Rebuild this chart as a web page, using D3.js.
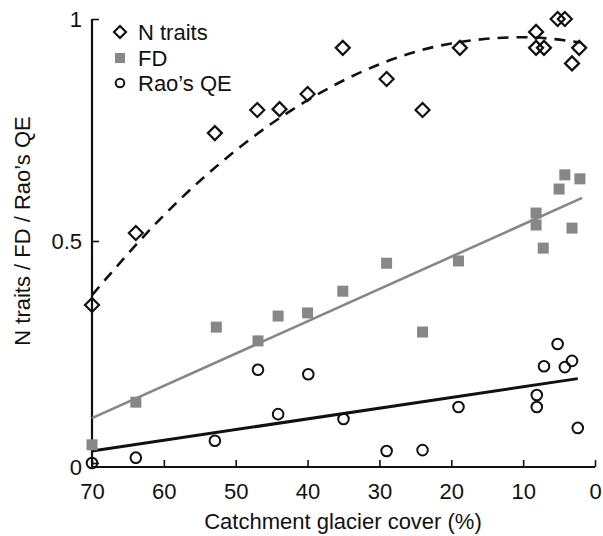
<!DOCTYPE html>
<html>
<head>
<meta charset="utf-8">
<script src="https://cdn.jsdelivr.net/npm/d3@7"></script>
<style>
  html, body { margin: 0; padding: 0; background: #fff; }
  svg { display: block; }
  text { font-family: "Liberation Sans", Arial, sans-serif; fill: #111; }
</style>
</head>
<body>
<svg id="chart" width="603" height="536"></svg>
<script>
// ---- data ----
const xTicks = [70, 60, 50, 40, 30, 20, 10, 0];
const yTicks = [0, 0.5, 1];
const yTickLabels = ["0", "0.5", "1"];

const nTraitsX = [70, 63.9, 52.9, 47.0, 43.9, 40.0, 35.1, 29.0, 24.0, 18.8, 8.2, 8.2, 7.1, 5.2, 4.2, 2.2, 3.2];
const nTraitsY = [0.356, 0.518, 0.743, 0.795, 0.797, 0.831, 0.935, 0.865, 0.795, 0.935, 0.971, 0.935, 0.935, 1.0, 1.0, 0.935, 0.90];

const fdX = [70, 63.9, 52.7, 46.9, 44.1, 40.0, 35.1, 29.0, 24.0, 19.0, 8.2, 8.2, 7.2, 5.0, 4.2, 3.2, 2.1];
const fdY = [0.041, 0.137, 0.306, 0.275, 0.331, 0.338, 0.387, 0.450, 0.295, 0.455, 0.563, 0.536, 0.484, 0.617, 0.649, 0.529, 0.640];

const raoX = [70, 63.9, 52.9, 46.9, 44.1, 39.9, 35.0, 29.0, 24.0, 19.0, 8.1, 8.1, 7.1, 5.2, 4.2, 3.2, 2.4];
const raoY = [0.0, 0.012, 0.05, 0.21, 0.11, 0.20, 0.099, 0.027, 0.029, 0.126, 0.153, 0.126, 0.218, 0.268, 0.216, 0.23, 0.079];

// fitted trend lines
const nTrendX = [70, 60, 50, 40, 30, 20, 10, 2];
const nTrendY = [0.378, 0.558, 0.704, 0.817, 0.898, 0.945, 0.959, 0.947];
const fdTrendX = [70, 1.8];
const fdTrendY = [0.101, 0.597];
const raoTrendX = [70, 2.4];
const raoTrendY = [0.027, 0.19];

const legendLabels = ["N traits", "FD", "Rao\u2019s QE"];

// ---- chart ----
const svg = d3.select("#chart");
const x = d3.scaleLinear().domain([70, 0]).range([92, 595]);
const y = d3.scaleLinear().domain([0, 1]).range([463, 19]);
const gray = "#878787";

// axes
const xAxis = svg.append("g").attr("transform", "translate(0,467)")
  .call(d3.axisBottom(x).tickValues(xTicks).tickSize(-7).tickPadding(16).tickFormat(d3.format("d")));
xAxis.select(".domain").attr("d", `M${x(70)},0H${x(0)}`).attr("stroke", "#111").attr("stroke-width", 2.2);
xAxis.selectAll(".tick line").attr("stroke", "#111").attr("stroke-width", 1.6);
xAxis.selectAll(".tick text").attr("font-size", 22).attr("font-family", "Liberation Sans, Arial, sans-serif").attr("fill", "#111");

const yAxis = svg.append("g").attr("transform", "translate(92,0)")
  .call(d3.axisLeft(y).tickValues(yTicks).tickSize(-7).tickPadding(10)
    .tickFormat((d, i) => yTickLabels[i]));
yAxis.select(".domain").attr("d", `M0,${y(1)}V467`).attr("stroke", "#111").attr("stroke-width", 2.2);
yAxis.selectAll(".tick line").attr("stroke", "#111").attr("stroke-width", 1.6);
yAxis.selectAll(".tick text").attr("font-size", 22).attr("font-family", "Liberation Sans, Arial, sans-serif").attr("fill", "#111");
yAxis.selectAll(".tick").filter(d => d === 0).select("text").attr("dy", "0.5em");

// axis titles
svg.append("text").attr("x", 343).attr("y", 529).attr("text-anchor", "middle")
  .attr("font-size", 22).text("Catchment glacier cover (%)");
svg.append("text").attr("transform", "translate(30,231) rotate(-90)").attr("text-anchor", "middle")
  .attr("font-size", 22).text("N traits / FD / Rao\u2019s QE");

// trend lines
const line = d3.line().x(d => x(d[0])).y(d => y(d[1]));
svg.append("path").datum(d3.zip(fdTrendX, fdTrendY)).attr("d", line)
  .attr("fill", "none").attr("stroke", gray).attr("stroke-width", 2.6);
svg.append("path").datum(d3.zip(raoTrendX, raoTrendY)).attr("d", line)
  .attr("fill", "none").attr("stroke", "#111").attr("stroke-width", 3);
svg.append("path").datum(d3.zip(nTrendX, nTrendY)).attr("d", line.curve(d3.curveMonotoneX))
  .attr("fill", "none").attr("stroke", "#111").attr("stroke-width", 2.6).attr("stroke-dasharray", "11,8");

// points
const diamond = "M0,-7L7,0L0,7L-7,0Z";
svg.append("g").selectAll("rect").data(d3.zip(fdX, fdY)).join("rect")
  .attr("x", d => x(d[0]) - 5.5).attr("y", d => y(d[1]) - 5.5)
  .attr("width", 11).attr("height", 11).attr("fill", gray);
svg.append("g").selectAll("circle").data(d3.zip(raoX, raoY)).join("circle")
  .attr("cx", d => x(d[0])).attr("cy", d => y(d[1])).attr("r", 5.3)
  .attr("fill", "none").attr("stroke", "#111").attr("stroke-width", 2);
svg.append("g").selectAll("path").data(d3.zip(nTraitsX, nTraitsY)).join("path")
  .attr("d", diamond).attr("transform", d => `translate(${x(d[0])},${y(d[1])})`)
  .attr("fill", "none").attr("stroke", "#111").attr("stroke-width", 2.2);

// legend
const leg = svg.append("g");
const legY = [32, 58, 83];
leg.append("path").attr("d", "M0,-6L6,0L0,6L-6,0Z").attr("transform", `translate(120,${legY[0]})`)
  .attr("fill", "none").attr("stroke", "#111").attr("stroke-width", 2.2);
leg.append("rect").attr("x", 115).attr("y", legY[1] - 5).attr("width", 10).attr("height", 10).attr("fill", gray);
leg.append("circle").attr("cx", 120).attr("cy", legY[2]).attr("r", 4.3)
  .attr("fill", "none").attr("stroke", "#111").attr("stroke-width", 2);
leg.selectAll("text").data(legendLabels).join("text")
  .attr("x", 138).attr("y", (d, i) => legY[i] + 8).attr("font-size", 22).text(d => d);
</script>
</body>
</html>
